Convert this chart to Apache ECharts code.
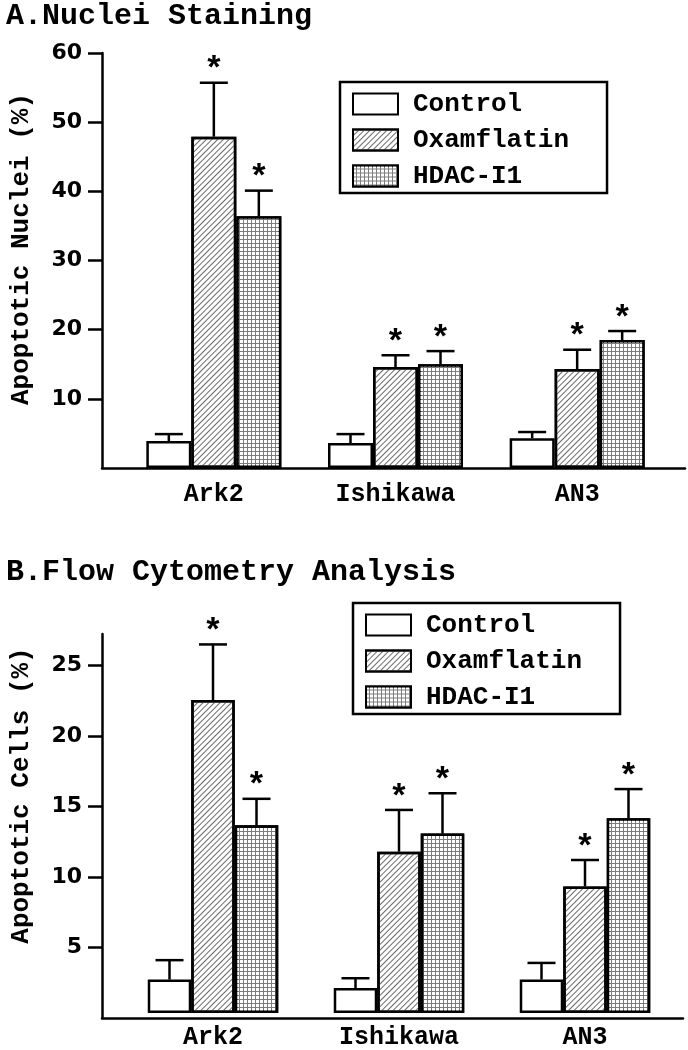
<!DOCTYPE html>
<html>
<head>
<meta charset="utf-8">
<script src="https://cdn.jsdelivr.net/npm/echarts@6/dist/echarts.min.js"></script>
<style>
html,body{margin:0;padding:0;background:#fff;}
#chart{width:688px;height:1050px;}
</style>
</head>
<body>
<div id="chart"></div>
<script>
// ---- data ----
const categories = ['Ark2', 'Ishikawa', 'AN3'];
const seriesNames = ['Control', 'Oxamflatin', 'HDAC-I1'];

// Panel A: Nuclei staining (% apoptotic nuclei)
const nucleiControl = [3.9, 3.6, 4.3];
const nucleiControlErr = [1.0, 1.3, 0.9];
const nucleiOxam = [47.9, 14.6, 14.3];
const nucleiOxamErr = [7.8, 1.7, 2.8];
const nucleiHdac = [36.4, 15.0, 18.5];
const nucleiHdacErr = [3.7, 1.9, 1.3];
const nucleiSig = [false, true, true];
const nucleiTicks = [10, 20, 30, 40, 50, 60];

// Panel B: Flow cytometry (% apoptotic cells)
const flowControl = [2.4, 1.8, 2.4];
const flowControlErr = [1.4, 0.7, 1.2];
const flowOxam = [22.5, 11.6, 9.1];
const flowOxamErr = [4.0, 3.0, 1.9];
const flowHdac = [13.5, 12.9, 14.0];
const flowHdacErr = [1.9, 2.9, 2.1];
const flowSig = [false, true, true];
const flowTicks = [5, 10, 15, 20, 25];

// ---- styles ----
const MONO = '"Liberation Mono", "DejaVu Sans Mono", monospace';
const SANS = '"DejaVu Sans", "Liberation Sans", sans-serif';
const LW = 2.5;
const barStyles = [
  { color: '#ffffff', borderColor: '#000', borderWidth: LW },
  { color: '#ffffff', borderColor: '#000', borderWidth: LW,
    decal: { symbol: 'rect', symbolSize: 1, dashArrayX: [1, 0], dashArrayY: [1, 3], rotation: -Math.PI / 4, color: '#6a6a6a' } },
  { color: '#7d7d7d', borderColor: '#000', borderWidth: LW,
    decal: { symbol: 'rect', symbolSize: 1, dashArrayX: [3, 1], dashArrayY: [3, 1], rotation: 0, color: '#ffffff' } }
];

function errRender(barW) {
  return function (params, api) {
    const cat = api.value(0), mean = api.value(1), hi = api.value(2), off = api.value(3), star = api.value(4);
    const b = api.coord([cat, mean]);
    const t = api.coord([cat, hi]);
    const x = b[0] + off * barW;
    const half = 14;
    const children = [
      { type: 'line', shape: { x1: x, y1: b[1], x2: x, y2: t[1] }, style: { stroke: '#000', lineWidth: LW } },
      { type: 'line', shape: { x1: x - half, y1: t[1], x2: x + half, y2: t[1] }, style: { stroke: '#000', lineWidth: LW } }
    ];
    if (star) {
      children.push({ type: 'text', style: { text: '*', x: x, y: t[1] - 12, textAlign: 'center', textVerticalAlign: 'middle',
        font: 'bold 34px ' + MONO, fill: '#000' } });
    }
    return { type: 'group', children: children };
  };
}

function errData(means, errs, off, sig) {
  return means.map((m, i) => [i, m, m + errs[i], off, sig ? 1 : 0]);
}

function panelSeries(xIdx, yIdx, barW, groups, sigs) {
  const out = [];
  groups.forEach((g, s) => {
    out.push({ type: 'bar', name: seriesNames[s], xAxisIndex: xIdx, yAxisIndex: yIdx, barWidth: barW, barGap: '0%',
      data: g[0], itemStyle: barStyles[s], emphasis: { disabled: true }, z: 2 });
  });
  groups.forEach((g, s) => {
    out.push({ type: 'custom', xAxisIndex: xIdx, yAxisIndex: yIdx, clip: false, z: 3,
      renderItem: errRender(barW), data: errData(g[0], g[1], s - 1, sigs[s]) });
  });
  return out;
}

function lineAxisX(gridIndex) {
  return { gridIndex, type: 'value', min: 0, max: 1, axisLine: { show: true, onZero: false, lineStyle: { color: '#000', width: LW } },
    axisTick: { show: false }, axisLabel: { show: false }, splitLine: { show: false } };
}
function catAxisX(gridIndex, margin) {
  return { gridIndex, type: 'category', data: categories, axisLine: { show: false }, axisTick: { show: false },
    axisLabel: { interval: 0, margin, color: '#000', fontFamily: MONO, fontWeight: 'bold', fontSize: 25 } };
}
function valueAxisY(gridIndex, max, ticks, name, namePad) {
  return { gridIndex, type: 'value', min: 0, max,
    axisLine: { show: true, onZero: false, lineStyle: { color: '#000', width: LW } },
    axisTick: { show: true, length: 14, customValues: ticks, lineStyle: { color: '#000', width: LW } },
    axisLabel: { customValues: ticks, margin: 20, color: '#000', fontFamily: SANS, fontWeight: 'bold', fontSize: 22 },
    splitLine: { show: false },
    name, nameLocation: 'middle', nameGap: 68, nameRotate: 90,
    nameTextStyle: { color: '#000', fontFamily: MONO, fontWeight: 'bold', fontSize: 26, padding: [0, 0, 0, namePad] } };
}
function hiddenY(gridIndex, max) {
  return { gridIndex, type: 'value', min: 0, max, show: false };
}
function legendAt(left, top) {
  return { orient: 'vertical', left, top, selectedMode: false, data: seriesNames,
    itemWidth: 45, itemHeight: 21, itemGap: 10, icon: 'rect',
    borderColor: '#000', borderWidth: LW, padding: [9, 38, 4, 12],
    itemStyle: { borderColor: '#000', borderWidth: 2 },
    textStyle: { color: '#000', fontFamily: MONO, fontWeight: 'bold', fontSize: 26, lineHeight: 26, padding: [0, 0, 0, 10] } };
}

const FLOW_MAX = 27.25;

const option = {
  animation: false,
  backgroundColor: '#fff',
  title: [
    { text: 'A.Nuclei Staining', left: 6, top: 1, padding: 0,
      textStyle: { fontFamily: MONO, fontWeight: 'bold', fontSize: 30, color: '#000' } },
    { text: 'B.Flow Cytometry Analysis', left: 6, top: 557, padding: 0,
      textStyle: { fontFamily: MONO, fontWeight: 'bold', fontSize: 30, color: '#000' } }
  ],
  legend: [legendAt(340, 82), legendAt(353, 603)],
  grid: [
    { left: 98, right: 3, top: 53, bottom: 582 },
    { left: 123, right: 20, top: 53, bottom: 582 },
    { left: 98, right: 5, top: 634, bottom: 32 },
    { left: 120, right: 10, top: 634, bottom: 32 }
  ],
  xAxis: [lineAxisX(0), catAxisX(1, 14), lineAxisX(2), catAxisX(3, 12)],
  yAxis: [
    valueAxisY(0, 60, nucleiTicks, 'Apoptotic Nuclei (%)', 23),
    hiddenY(1, 60),
    valueAxisY(2, FLOW_MAX, flowTicks, 'Apoptotic Cells (%)', 61),
    hiddenY(3, FLOW_MAX)
  ],
  series: [
    ...panelSeries(1, 1, 45,
      [[nucleiControl, nucleiControlErr], [nucleiOxam, nucleiOxamErr], [nucleiHdac, nucleiHdacErr]], nucleiSig),
    ...panelSeries(3, 3, 43.5,
      [[flowControl, flowControlErr], [flowOxam, flowOxamErr], [flowHdac, flowHdacErr]], flowSig)
  ]
};

const chart = echarts.init(document.getElementById('chart'), null, { renderer: 'canvas' });
chart.setOption(option);
</script>
</body>
</html>
